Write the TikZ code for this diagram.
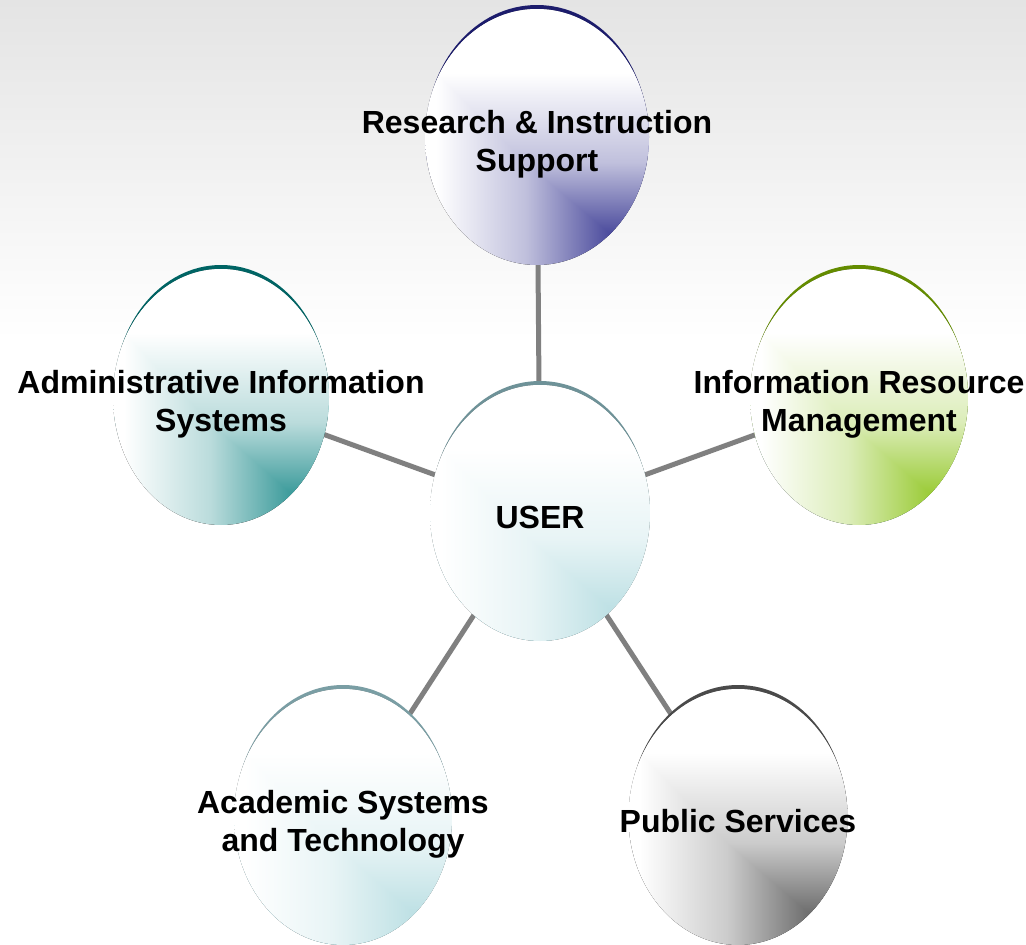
\documentclass[tikz,border=0pt]{standalone}
\usepackage{fontspec}
\setmainfont{Liberation Sans}
\usetikzlibrary{shapes.geometric,backgrounds}
\definecolor{bgtop}{HTML}{E4E4E4}
\definecolor{conncol}{HTML}{808080}
\definecolor{resfill}{HTML}{4A4A9C}
\definecolor{resrim}{HTML}{1C1C6C}
\definecolor{admfill}{HTML}{3A9A9A}
\definecolor{admrim}{HTML}{006464}
\definecolor{inffill}{HTML}{9ACB36}
\definecolor{infrim}{HTML}{648C00}
\definecolor{usrfill}{HTML}{BDE0E4}
\definecolor{usrrim}{HTML}{6E9298}
\definecolor{pubfill}{HTML}{6C6C6C}
\definecolor{pubrim}{HTML}{4A4A4A}
\definecolor{acafill}{HTML}{BDE0E4}
\definecolor{acarim}{HTML}{7A9EA4}
\newcommand\mkshade[2]{%
  \pgfdeclarehorizontalshading{h#1}{100bp}{color(0bp)=(white); color(27.5bp)=(white); color(47.5bp)=(#2!35); color(66.5bp)=(#2); color(100bp)=(#2)}%
  \pgfdeclareverticalshading{v#1}{100bp}{color(0bp)=(#2); color(31bp)=(#2); color(45bp)=(#2!35); color(62.5bp)=(white); color(100bp)=(white)}}
\mkshade{res}{resfill}
\mkshade{adm}{admfill}
\mkshade{inf}{inffill}
\mkshade{usr}{usrfill}
\mkshade{pub}{pubfill}
\mkshade{aca}{acafill}
\newcommand\btext[1]{\raisebox{-14pt}[0pt][0pt]{\makebox[0pt]{\begin{tabular}{@{}c@{}}#1\end{tabular}}}}
\tikzset{
  bubble/.style={ellipse, inner sep=0pt, minimum width=219pt, minimum height=256pt,
    font=\fontsize{32}{38}\bfseries\selectfont, text=black,
    path picture={
      \fill[shading=h#1] (path picture bounding box.south west) rectangle (path picture bounding box.north east);
      \fill[shading=v#1, blend mode=lighten] (path picture bounding box.south west) rectangle (path picture bounding box.north east);
    }},
  conn/.style={draw=conncol, line width=5pt},
  rim/.style={fill=#1},
  under/.style={fill=white}
}
\begin{document}
\begin{tikzpicture}[x=1pt,y=-1pt]
\useasboundingbox (0,0) rectangle (1026,945);
\node[bubble=res, minimum width=224pt] (res) at (537,137) {\btext{Research \& Instruction\\Support}};
\node[bubble=adm, minimum width=216pt] (adm) at (221,397) {\btext{Administrative Information\\Systems}};
\node[bubble=inf, minimum width=218pt] (inf) at (859,397) {\btext{Information Resource\\Management}};
\node[bubble=usr, minimum width=220pt] (usr) at (540,513) {\btext{USER}};
\node[bubble=aca, minimum width=218pt] (aca) at (343,817) {\btext{Academic Systems\\and Technology}};
\node[bubble=pub, minimum width=219pt] (pub) at (738,817) {\btext{Public Services}};
\begin{pgfonlayer}{background}
  \fill[white] (0,0) rectangle (1026,945);
  \shade[top color=bgtop, bottom color=white] (0,0) rectangle (1026,340);
  \draw[conn] (usr.center) -- (res.center);
  \draw[conn] (usr.center) -- (adm.center);
  \draw[conn] (usr.center) -- (inf.center);
  \draw[conn] (usr.center) -- (aca.center);
  \draw[conn] (usr.center) -- (pub.center);
  \fill[rim=resrim] ([yshift=4pt]res.center) ellipse [x radius=110.7pt, y radius=128pt];
  \fill[rim=admrim] ([yshift=4pt]adm.center) ellipse [x radius=106.7pt, y radius=128pt];
  \fill[rim=infrim] ([yshift=4pt]inf.center) ellipse [x radius=107.7pt, y radius=128pt];
  \fill[rim=usrrim] ([yshift=4pt]usr.center) ellipse [x radius=108.7pt, y radius=128pt];
  \fill[rim=acarim] ([yshift=4pt]aca.center) ellipse [x radius=107.7pt, y radius=128pt];
  \fill[rim=pubrim] ([yshift=4pt]pub.center) ellipse [x radius=108.2pt, y radius=128pt];
  \fill[under] (res.center) ellipse [x radius=111.6pt, y radius=127.6pt];
  \fill[under] (adm.center) ellipse [x radius=107.6pt, y radius=127.6pt];
  \fill[under] (inf.center) ellipse [x radius=108.6pt, y radius=127.6pt];
  \fill[under] (usr.center) ellipse [x radius=109.6pt, y radius=127.6pt];
  \fill[under] (aca.center) ellipse [x radius=108.6pt, y radius=127.6pt];
  \fill[under] (pub.center) ellipse [x radius=109.1pt, y radius=127.6pt];
\end{pgfonlayer}
\end{tikzpicture}
\end{document}
